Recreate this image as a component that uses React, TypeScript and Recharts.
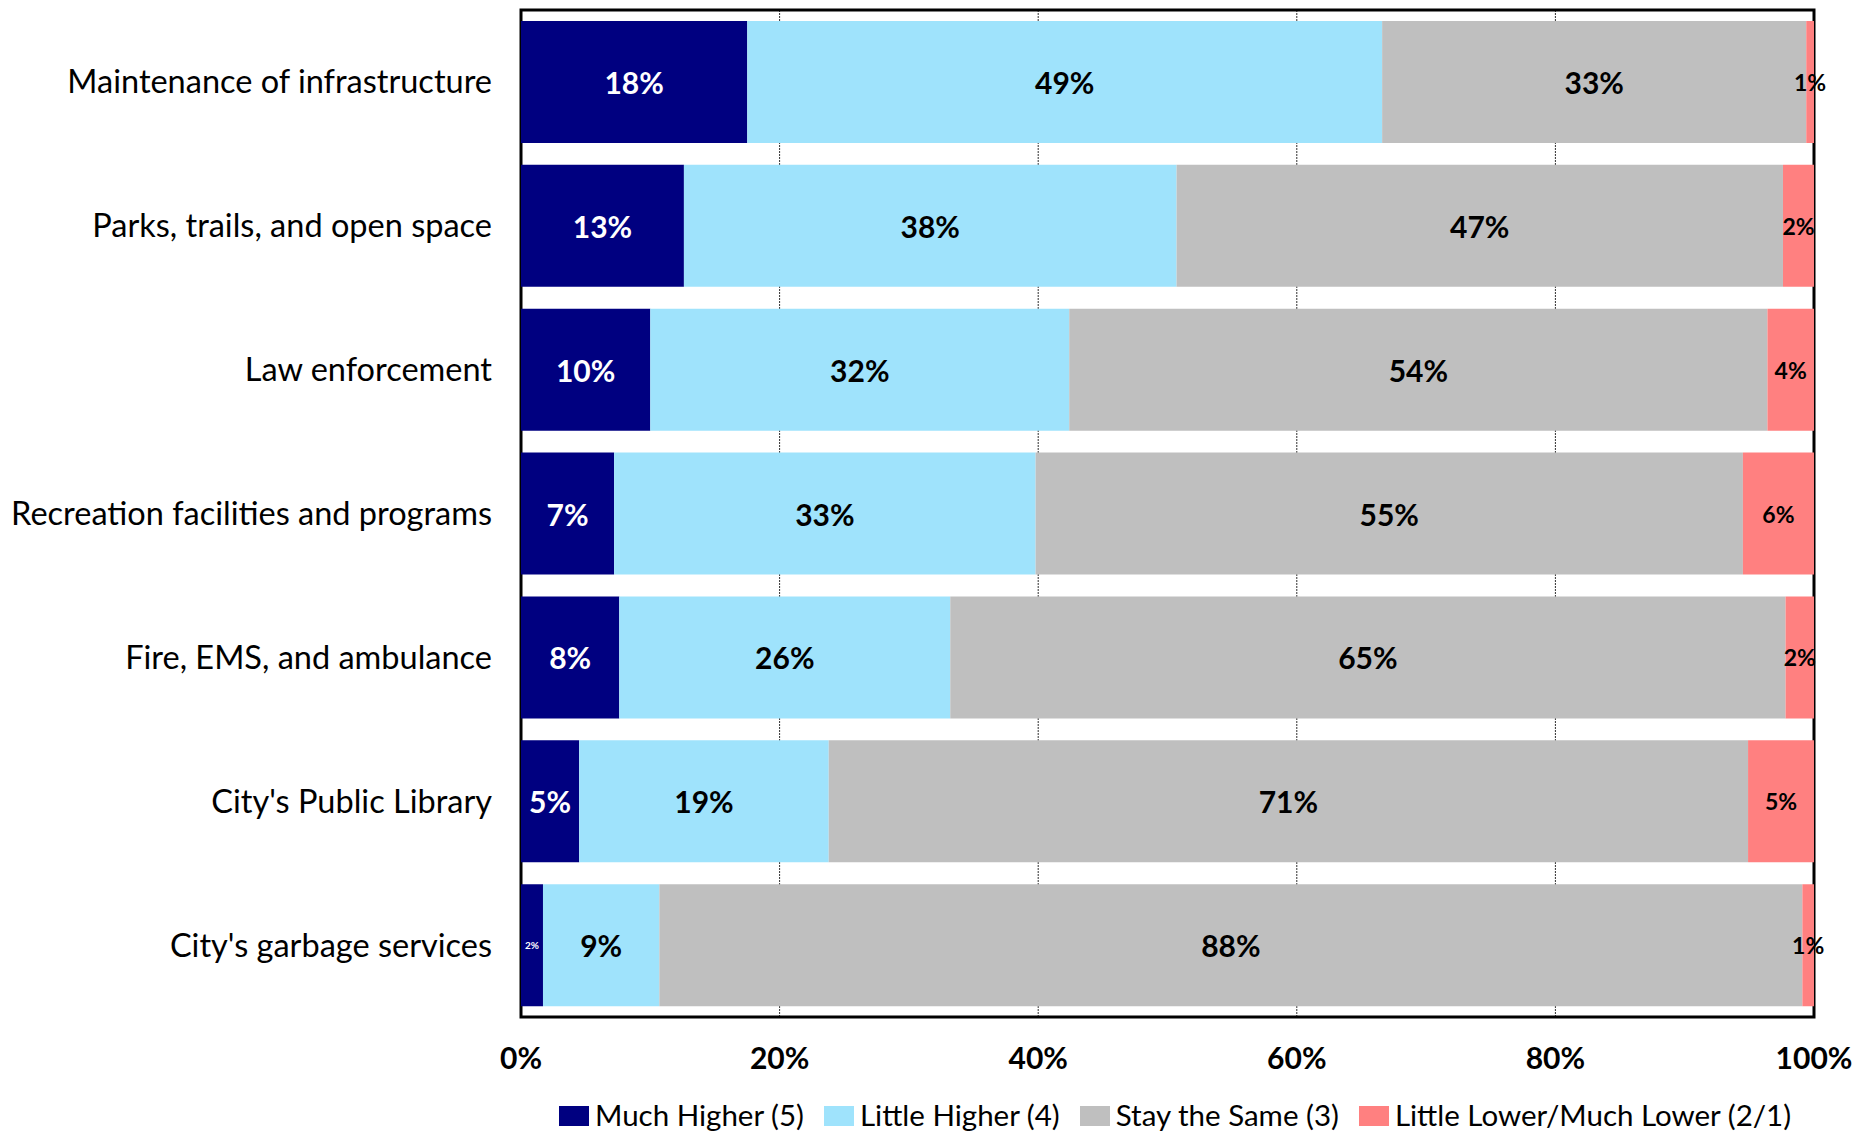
import React from 'react';
import { BarChart, Bar, XAxis, YAxis, CartesianGrid, LabelList, ReferenceArea } from 'recharts';

const categories = [
  'Maintenance of infrastructure',
  'Parks, trails, and open space',
  'Law enforcement',
  'Recreation facilities and programs',
  'Fire, EMS, and ambulance',
  "City's Public Library",
  "City's garbage services",
];
const muchHigher = [17.5, 12.6, 10.0, 7.2, 7.6, 4.5, 1.7];
const littleHigher = [49.1, 38.1, 32.4, 32.6, 25.6, 19.3, 9.0];
const staySame = [32.8, 46.9, 54.0, 54.7, 64.6, 71.1, 88.4];
const lower = [0.6, 2.4, 3.6, 5.5, 2.2, 5.1, 0.9];
const xTicks = [0, 20, 40, 60, 80, 100];

const seriesNames = ['Much Higher (5)', 'Little Higher (4)', 'Stay the Same (3)', 'Little Lower/Much Lower (2/1)'];
const seriesColors = ['#000080', '#9fe3fc', '#bfbfbf', '#ff8080'];
const seriesKeys = ['muchHigher', 'littleHigher', 'staySame', 'lower'];

const data = categories.map((name, i) => ({
  name,
  muchHigher: muchHigher[i],
  littleHigher: littleHigher[i],
  staySame: staySame[i],
  lower: lower[i],
}));

const FONT = 'Lato, "Open Sans", sans-serif';

const makeLabel = (series: number) => (props: any) => {
  const { x, y, width, height, value } = props;
  let size = 30;
  let fill = '#000';
  if (series === 0) {
    fill = '#fff';
    if (value < 3) size = 10;
  }
  if (series === 3) size = 23;
  return (
    <text
      x={x + width / 2}
      y={y + height / 2}
      textAnchor="middle"
      dominantBaseline="central"
      fill={fill}
      fontSize={size}
      fontWeight="bold"
      fontFamily={FONT}
    >
      {Math.round(value)}%
    </text>
  );
};

export default function App() {
  return (
    <div style={{ position: 'absolute', left: 0, top: 0, width: 1870, height: 1134, overflow: 'hidden', background: '#fff' }}>
      <BarChart
        width={1870}
        height={1090}
        data={data}
        layout="vertical"
        barSize={122}
        margin={{ top: 10, right: 56, left: 0, bottom: 0 }}
      >
        <CartesianGrid horizontal={false} stroke="#303030" strokeDasharray="2 1" />
        <XAxis
          type="number"
          domain={[0, 100]}
          ticks={xTicks}
          tickFormatter={(v) => `${v}%`}
          height={73}
          tickSize={0}
          tickMargin={31}
          axisLine={false}
          tick={{ fill: '#000', fontSize: 30, fontWeight: 'bold', fontFamily: FONT }}
          interval={0}
        />
        <YAxis
          type="category"
          dataKey="name"
          width={521}
          tickSize={0}
          tickMargin={29}
          axisLine={false}
          tick={{ fill: '#000', fontSize: 32.5, fontFamily: FONT }}
          interval={0}
        />
        {seriesKeys.map((key, s) => (
          <Bar key={key} dataKey={key} stackId="a" fill={seriesColors[s]} name={seriesNames[s]} isAnimationActive={false}>
            <LabelList dataKey={key} content={makeLabel(s)} />
          </Bar>
        ))}
        <ReferenceArea x1={0} x2={100} fill="none" stroke="#000" strokeWidth={3} ifOverflow="visible" />
      </BarChart>
      <div
        style={{
          position: 'absolute',
          top: 1100,
          left: 559,
          display: 'flex',
          alignItems: 'flex-start',
          fontFamily: FONT,
          fontSize: 29.5,
          lineHeight: 1,
          color: '#000',
          whiteSpace: 'nowrap',
        }}
      >
        {seriesNames.map((n, s) => (
          <div key={n} style={{ display: 'flex', alignItems: 'flex-start', marginRight: 20 }}>
            <div style={{ width: 30, height: 20, background: seriesColors[s], marginTop: 6, marginRight: 6 }} />
            <span>{n}</span>
          </div>
        ))}
      </div>
    </div>
  );
}
